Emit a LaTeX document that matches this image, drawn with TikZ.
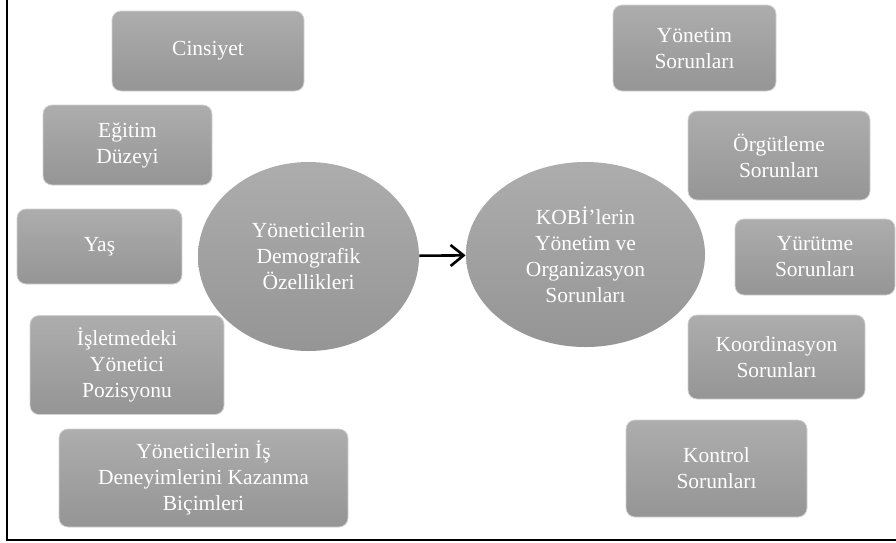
\documentclass[tikz,border=0pt]{standalone}
\usepackage{fontspec}
\setmainfont{Liberation Serif}
\usetikzlibrary{shapes.geometric,arrows.meta}

\definecolor{topgray}{HTML}{ADADAD}
\definecolor{botgray}{HTML}{959595}
\definecolor{edgegray}{HTML}{D2D2D2}

\begin{document}
\begin{tikzpicture}[x=1pt,y=-1pt,>={Straight Barb[length=13pt,width=21pt]},
                    thick,
                    box/.style={rectangle,rounded corners=9pt,draw=edgegray,line width=0.8pt,
                                top color=topgray,bottom color=botgray,text=white,align=center,
                                inner sep=0pt,font=\fontsize{21.5}{26}\selectfont},
                    blob/.style={ellipse,draw=none,top color=topgray,bottom color=botgray,
                                 text=white,align=center,inner sep=0pt,
                                 font=\fontsize{21.5}{26}\selectfont}]
\useasboundingbox (0,0) rectangle (896,542);

% frame
\draw[line width=1.6pt] (7,0) -- (7,540) -- (896,540);

% left side
\node[box,minimum width=192pt,minimum height=80pt] (cins) at (208,51) {Cinsiyet};
\node[box,minimum width=169pt,minimum height=80pt] (egit) at (127.5,145) {Eğitim\\Düzeyi};
\node[box,minimum width=165pt,minimum height=75pt] (yas) at (99.5,246.5) {Yaş};
\node[box,minimum width=194pt,minimum height=99pt] (islet) at (127,365) {İşletmedeki\\Yönetici\\Pozisyonu};
\node[box,minimum width=289pt,minimum height=98pt] (deney) at (203.5,478) {Yöneticilerin İş\\Deneyimlerini Kazanma\\Biçimleri};

\node[blob,minimum width=221pt,minimum height=189pt] (demo) at (308.5,256.5) {Yöneticilerin\\Demografik\\Özellikleri};
\node[blob,minimum width=239pt,minimum height=185pt] (kobi) at (585.5,254.5) {KOBİ’lerin\\Yönetim ve\\Organizasyon\\Sorunları};

% right side
\node[box,minimum width=163pt,minimum height=86pt] (ynt) at (694.5,48) {Yönetim\\Sorunları};
\node[box,minimum width=182pt,minimum height=89pt] (orgt) at (779,155.5) {Örgütleme\\Sorunları};
\node[box,minimum width=160pt,minimum height=76pt] (yrt) at (815,257) {Yürütme\\Sorunları};
\node[box,minimum width=177pt,minimum height=84pt] (koor) at (776.5,357) {Koordinasyon\\Sorunları};
\node[box,minimum width=181pt,minimum height=97pt] (kont) at (716.5,468.5) {Kontrol\\Sorunları};

\draw[->,line width=2.6pt] (demo) -- (kobi);
\end{tikzpicture}
\end{document}
